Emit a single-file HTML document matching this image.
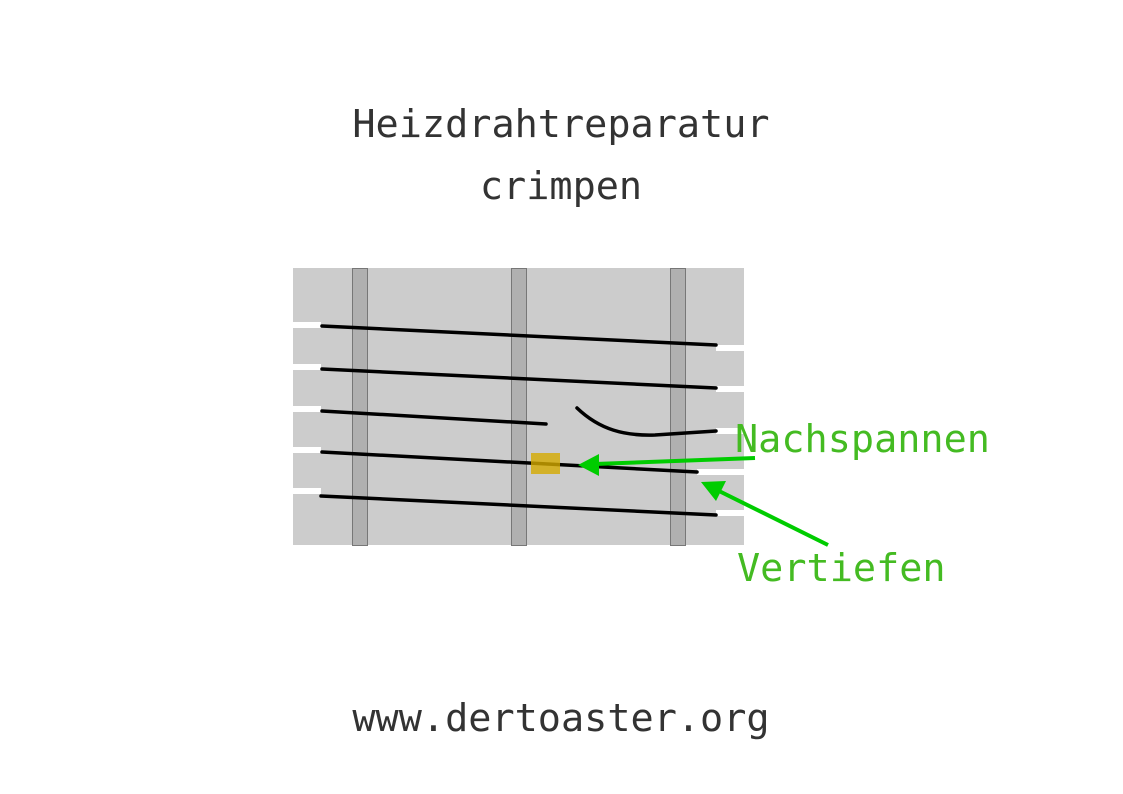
<!DOCTYPE html>
<html><head><meta charset="utf-8"><style>
html,body{margin:0;padding:0;background:#fff;}
svg{display:block;}
text{font-family:"DejaVu Sans Mono","Liberation Mono",monospace;font-size:38.5px;}
</style></head><body>
<svg width="1123" height="794" viewBox="0 0 1123 794" xmlns="http://www.w3.org/2000/svg">
<text x="561" y="137" text-anchor="middle" fill="#333">Heizdrahtreparatur</text>
<text x="561" y="199" text-anchor="middle" fill="#333">crimpen</text>
<text x="561" y="731" text-anchor="middle" fill="#333">www.dertoaster.org</text>
<rect x="293" y="268" width="451" height="277" fill="#cccccc"/>
<g fill="#fff">
<rect x="293" y="322" width="28" height="6"/>
<rect x="293" y="364" width="28" height="6"/>
<rect x="293" y="406" width="28" height="6"/>
<rect x="293" y="447" width="28" height="6"/>
<rect x="293" y="488" width="28" height="6"/>
<rect x="716" y="345" width="28" height="6"/>
<rect x="716" y="386" width="28" height="6"/>
<rect x="716" y="428" width="28" height="6"/>
<rect x="697" y="469" width="47" height="6"/>
<rect x="716" y="510" width="28" height="6"/>
</g>
<g fill="#b0b0b0" stroke="#777" stroke-width="1">
<rect x="352.5" y="268.5" width="15" height="277"/>
<rect x="511.5" y="268.5" width="15" height="277"/>
<rect x="670.5" y="268.5" width="15" height="277"/>
</g>
<g stroke="#000" stroke-width="3.5" stroke-linecap="round" fill="none">
<line x1="322" y1="326" x2="716" y2="345"/>
<line x1="322" y1="369" x2="716" y2="388"/>
<line x1="322" y1="411" x2="546" y2="424"/>
<path d="M577 408 C600 430 625 436 655 435 L716 431"/>
<line x1="322" y1="452" x2="697" y2="472"/>
<line x1="321" y1="496" x2="716" y2="515"/>
</g>
<rect x="531" y="453" width="29" height="21" fill="#d4aa00" opacity="0.8"/>
<g stroke="#00cc00" stroke-width="4" fill="#00cc00">
<line x1="755" y1="458" x2="595" y2="464"/>
<polygon points="578,465 599,454 599,476" stroke="none"/>
<line x1="828" y1="545" x2="715" y2="489"/>
<polygon points="701,482 726,481 716,501" stroke="none"/>
</g>
<text x="735" y="452" fill="#44bb22">Nachspannen</text>
<text x="737" y="581" fill="#44bb22">Vertiefen</text>
</svg>
</body></html>
